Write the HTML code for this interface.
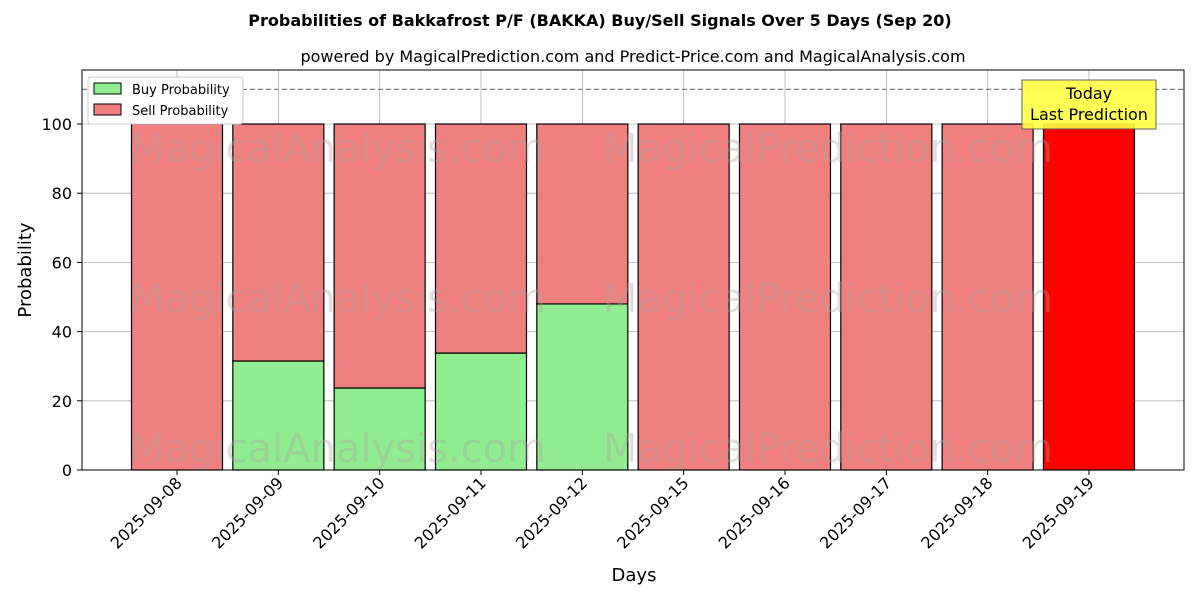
<!DOCTYPE html>
<html><head><meta charset="utf-8"><style>
body{margin:0;background:#fff;font-family:"Liberation Sans","DejaVu Sans",sans-serif}
</style></head><body>
<svg id="c" width="1200" height="600" xmlns="http://www.w3.org/2000/svg" font-family="DejaVu Sans, Liberation Sans, sans-serif">
<text x="600" y="26" text-anchor="middle" font-size="16" font-weight="bold">Probabilities of Bakkafrost P/F (BAKKA) Buy/Sell Signals Over 5 Days (Sep 20)</text>
<text x="633" y="62" text-anchor="middle" font-size="16">powered by MagicalPrediction.com and Predict-Price.com and MagicalAnalysis.com</text>
<g id="grid"></g>
<g id="bars"></g>
<g fill="#b0a0a0" opacity="0.35" font-size="40">
<text x="130" y="162">MagicalAnalysis.com</text><text x="603" y="162">MagicalPrediction.com</text>
<text x="130" y="312">MagicalAnalysis.com</text><text x="603" y="312">MagicalPrediction.com</text>
<text x="130" y="462">MagicalAnalysis.com</text><text x="603" y="462">MagicalPrediction.com</text>
</g>
<line x1="82" x2="1184" y1="89.4" y2="89.4" stroke="#808080" stroke-dasharray="5,3" stroke-width="1.2"/>
<rect x="82" y="70" width="1102" height="400" fill="none" stroke="#000" stroke-width="1"/>
<g id="axes"></g>
<text x="634" y="581" text-anchor="middle" font-size="18">Days</text>
<text transform="translate(31,270) rotate(-90)" text-anchor="middle" font-size="18">Probability</text>
<g>
<rect x="88" y="77" width="155" height="47" fill="#fff" stroke="#ccc" rx="3"/>
<rect x="94" y="83" width="27" height="11" fill="#90ee90" stroke="#000"/>
<text x="132" y="94" font-size="13">Buy Probability</text>
<rect x="94" y="104" width="27" height="11" fill="#f08080" stroke="#000"/>
<text x="132" y="115" font-size="13">Sell Probability</text>
</g>
<g>
<rect x="1022" y="80" width="134" height="49" fill="#ffff44" stroke="#555" opacity="0.9"/>
<text x="1089" y="99" text-anchor="middle" font-size="16">Today</text>
<text x="1089" y="120" text-anchor="middle" font-size="16">Last Prediction</text>
</g>
</svg>
<script>
const categories=["2025-09-08","2025-09-09","2025-09-10","2025-09-11","2025-09-12","2025-09-15","2025-09-16","2025-09-17","2025-09-18","2025-09-19"];
const buyValues=[0,31.5,23.7,33.8,48.0,0,0,0,0,0];
const sellValues=[100,68.5,76.3,66.2,52.0,100,100,100,100,100];
const yTicks=[0,20,40,60,80,100];
const NS="http://www.w3.org/2000/svg";
const y=v=>470-v*3.46;
const x=i=>177+i*101.33;
const bw=91;
function mk(tag,attrs,parent){const e=document.createElementNS(NS,tag);for(const k in attrs)e.setAttribute(k,attrs[k]);parent.appendChild(e);return e;}
const grid=document.getElementById('grid'),bars=document.getElementById('bars'),axes=document.getElementById('axes');
yTicks.forEach(t=>{
 const g=mk('line',{x1:82,x2:1184,y1:y(t),y2:y(t),stroke:'#b0b0b0','stroke-width':0.8},grid);
 
 
 mk('line',{x1:77,x2:82,y1:y(t),y2:y(t),stroke:'#000'},axes);
 const l=mk('text',{x:72,y:y(t)+6,'text-anchor':'end','font-size':16},axes);
 l.textContent=t;
 
 
});
categories.forEach((c,i)=>{
 const gl=mk('line',{x1:x(i),x2:x(i),y1:70,y2:470,stroke:'#b0b0b0','stroke-width':0.8},grid);
 
 
 const last=i===categories.length-1;
 if(buyValues[i]>0){
  const b=mk('rect',{x:x(i)-bw/2,y:y(buyValues[i]),width:bw,height:y(0)-y(buyValues[i]),fill:'#90ee90',stroke:'#000','stroke-width':1.2},bars);
  
  
 }
 const s=mk('rect',{x:x(i)-bw/2,y:y(buyValues[i]+sellValues[i]),width:bw,height:y(buyValues[i])-y(buyValues[i]+sellValues[i]),fill:last?'#ff0000':'#f08080',stroke:'#000','stroke-width':1.2},bars);
 
 
 mk('line',{x1:x(i),x2:x(i),y1:470,y2:475,stroke:'#000'},axes);
 const t=mk('text',{transform:`translate(${x(i)+6},484) rotate(-45)`,'text-anchor':'end','font-size':16},axes);
 t.textContent=c;
 
 
});
</script>
</body></html>
